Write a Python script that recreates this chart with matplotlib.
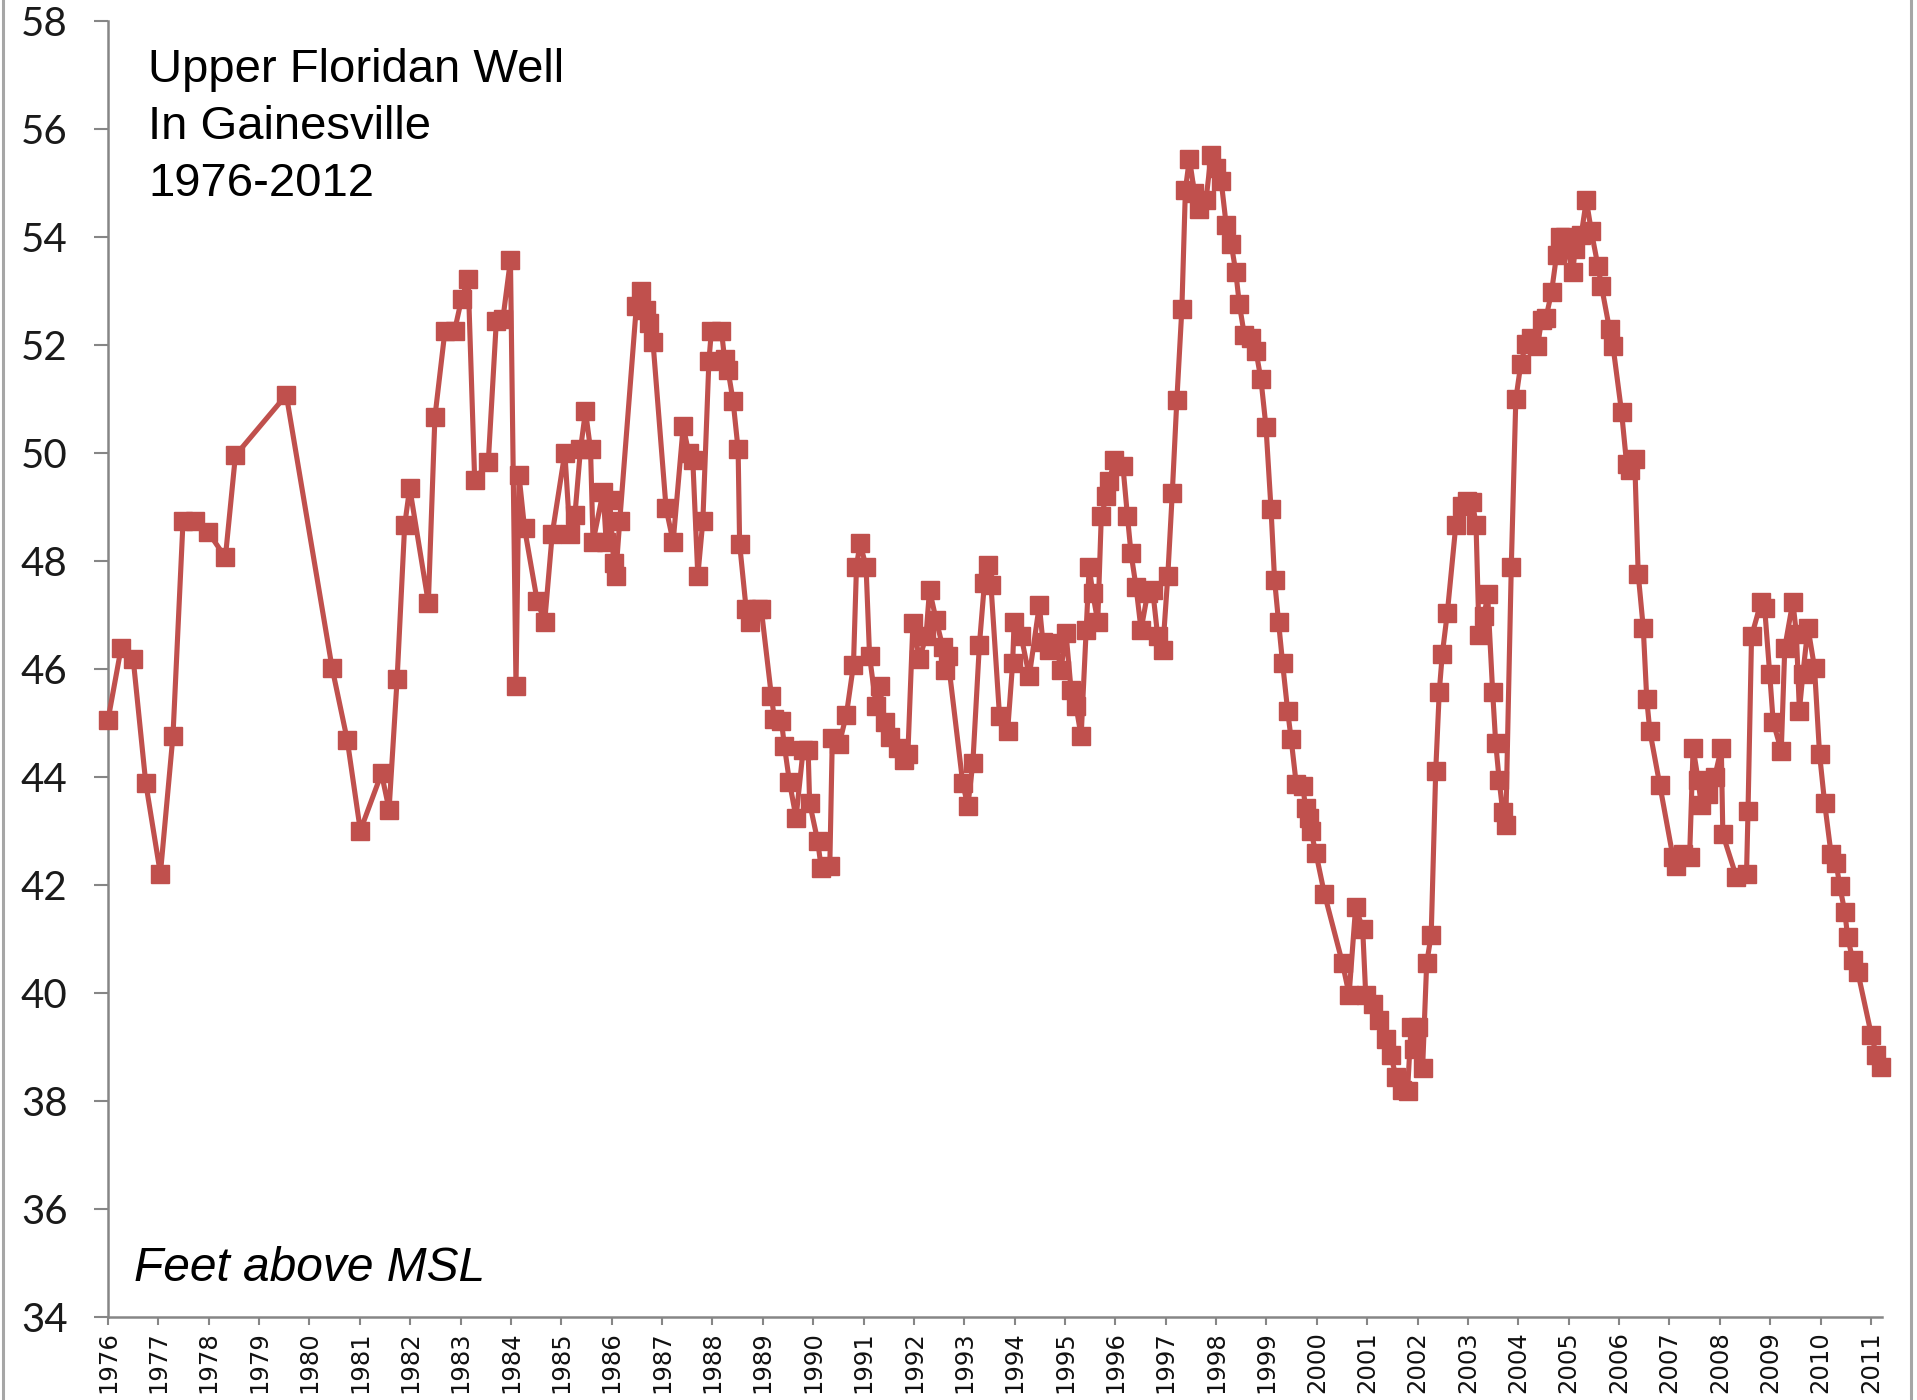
import matplotlib
matplotlib.use("Agg")
import matplotlib.pyplot as plt
from matplotlib.lines import Line2D

# ---------------- data ----------------
decimal_year = [
    1976.00, 1976.26, 1976.50, 1976.75, 1977.04, 1977.29, 1977.49, 1977.73, 1977.99, 1978.33,
    1978.53, 1979.54, 1980.45, 1980.75, 1981.01, 1981.43, 1981.58, 1981.74, 1981.89, 1981.99,
    1982.36, 1982.49, 1982.69, 1982.88, 1983.02, 1983.15, 1983.28, 1983.55, 1983.71, 1983.84,
    1983.99, 1984.10, 1984.16, 1984.27, 1984.52, 1984.67, 1984.82, 1985.07, 1985.17, 1985.27,
    1985.38, 1985.48, 1985.58, 1985.63, 1985.83, 1985.89, 1985.96, 1986.04, 1986.08, 1986.16,
    1986.49, 1986.59, 1986.69, 1986.75, 1986.82, 1987.08, 1987.22, 1987.42, 1987.53, 1987.61,
    1987.71, 1987.81, 1987.93, 1987.98, 1988.18, 1988.24, 1988.31, 1988.41, 1988.51, 1988.54,
    1988.67, 1988.74, 1988.90, 1988.97, 1989.17, 1989.23, 1989.37, 1989.43, 1989.53, 1989.66,
    1989.80, 1989.90, 1989.93, 1990.09, 1990.16, 1990.33, 1990.38, 1990.52, 1990.66, 1990.80,
    1990.86, 1990.93, 1991.05, 1991.12, 1991.25, 1991.32, 1991.42, 1991.52, 1991.68, 1991.81,
    1991.88, 1991.98, 1992.11, 1992.24, 1992.31, 1992.44, 1992.57, 1992.61, 1992.67, 1992.97,
    1993.07, 1993.17, 1993.30, 1993.40, 1993.47, 1993.53, 1993.70, 1993.86, 1993.96, 1993.99,
    1994.13, 1994.29, 1994.49, 1994.56, 1994.69, 1994.82, 1994.92, 1995.02, 1995.12, 1995.22,
    1995.32, 1995.42, 1995.48, 1995.55, 1995.65, 1995.72, 1995.82, 1995.88, 1995.98, 1996.15,
    1996.24, 1996.31, 1996.41, 1996.51, 1996.64, 1996.74, 1996.84, 1996.94, 1997.04, 1997.13,
    1997.22, 1997.32, 1997.39, 1997.47, 1997.57, 1997.67, 1997.80, 1997.90, 1998.00, 1998.10,
    1998.20, 1998.30, 1998.39, 1998.46, 1998.56, 1998.69, 1998.79, 1998.89, 1998.99, 1999.09,
    1999.16, 1999.24, 1999.32, 1999.42, 1999.49, 1999.59, 1999.72, 1999.78, 1999.85, 1999.88,
    1999.98, 2000.15, 2000.51, 2000.64, 2000.77, 2000.91, 2000.97, 2001.11, 2001.24, 2001.37,
    2001.47, 2001.57, 2001.70, 2001.80, 2001.87, 2001.93, 2002.00, 2002.10, 2002.18, 2002.27,
    2002.36, 2002.43, 2002.49, 2002.59, 2002.76, 2002.89, 2002.98, 2003.09, 2003.16, 2003.22,
    2003.32, 2003.39, 2003.49, 2003.55, 2003.62, 2003.69, 2003.75, 2003.86, 2003.95, 2004.05,
    2004.15, 2004.25, 2004.38, 2004.46, 2004.55, 2004.66, 2004.76, 2004.83, 2004.92, 2005.08,
    2005.13, 2005.25, 2005.35, 2005.45, 2005.58, 2005.65, 2005.81, 2005.88, 2006.05, 2006.15,
    2006.21, 2006.31, 2006.38, 2006.48, 2006.55, 2006.61, 2006.81, 2007.07, 2007.14, 2007.27,
    2007.40, 2007.47, 2007.57, 2007.63, 2007.77, 2007.90, 2008.03, 2008.06, 2008.33, 2008.53,
    2008.56, 2008.63, 2008.82, 2008.89, 2008.99, 2009.06, 2009.22, 2009.29, 2009.45, 2009.52,
    2009.58, 2009.65, 2009.75, 2009.88, 2009.98, 2010.08, 2010.21, 2010.31, 2010.38, 2010.48,
    2010.54, 2010.64, 2010.74, 2011.01, 2011.11, 2011.21,
]

water_level_ft = [
    45.06, 46.39, 46.19, 43.89, 42.21, 44.77, 48.75, 48.75, 48.54, 48.07,
    49.96, 51.08, 46.02, 44.69, 43.01, 44.07, 43.40, 45.82, 48.67, 49.36,
    47.23, 50.67, 52.27, 52.27, 52.86, 53.23, 49.50, 49.84, 52.45, 52.49,
    53.58, 45.69, 49.59, 48.61, 47.27, 46.88, 48.51, 50.01, 48.51, 48.86,
    50.07, 50.78, 50.07, 48.36, 49.29, 48.36, 49.14, 47.97, 47.73, 48.75,
    52.73, 53.00, 52.65, 52.41, 52.06, 48.98, 48.36, 50.50, 50.00, 49.88,
    47.73, 48.75, 51.71, 52.27, 52.27, 51.75, 51.54, 50.97, 50.07, 48.32,
    47.11, 46.88, 47.11, 47.11, 45.51, 45.08, 45.04, 44.57, 43.91, 43.25,
    44.50, 44.50, 43.52, 42.82, 42.31, 42.35, 44.72, 44.62, 45.16, 46.08,
    47.90, 48.34, 47.90, 46.24, 45.31, 45.68, 45.03, 44.75, 44.54, 44.32,
    44.42, 46.85, 46.18, 46.61, 47.47, 46.92, 46.42, 45.99, 46.24, 43.89,
    43.46, 44.26, 46.45, 47.59, 47.93, 47.56, 45.13, 44.85, 46.11, 46.88,
    46.61, 45.87, 47.19, 46.51, 46.36, 46.48, 45.99, 46.67, 45.62, 45.31,
    44.76, 46.73, 47.90, 47.41, 46.88, 48.83, 49.20, 49.48, 49.88, 49.76,
    48.83, 48.15, 47.53, 46.73, 47.41, 47.47, 46.61, 46.36, 47.72, 49.27,
    50.98, 52.68, 54.88, 55.46, 54.82, 54.53, 54.70, 55.52, 55.29, 55.05,
    54.23, 53.88, 53.36, 52.77, 52.19, 52.13, 51.90, 51.37, 50.49, 48.97,
    47.66, 46.87, 46.11, 45.23, 44.70, 43.88, 43.83, 43.42, 43.24, 43.01,
    42.60, 41.84, 40.55, 39.97, 41.60, 41.19, 39.97, 39.79, 39.50, 39.15,
    38.85, 38.45, 38.21, 38.18, 39.38, 38.97, 39.38, 38.62, 40.55, 41.08,
    44.12, 45.58, 46.28, 47.04, 48.68, 49.03, 49.12, 49.09, 48.68, 46.63,
    46.98, 47.39, 45.58, 44.64, 43.94, 43.36, 43.12, 47.90, 51.00, 51.66,
    52.03, 52.14, 51.98, 52.46, 52.51, 52.99, 53.68, 54.00, 54.00, 53.36,
    53.79, 54.05, 54.69, 54.11, 53.47, 53.10, 52.30, 51.98, 50.76, 49.80,
    49.69, 49.89, 47.76, 46.77, 45.44, 44.86, 43.85, 42.52, 42.36, 42.57,
    42.52, 44.54, 43.95, 43.48, 43.69, 44.01, 44.54, 42.94, 42.15, 42.20,
    43.37, 46.61, 47.25, 47.14, 45.92, 45.02, 44.49, 46.40, 47.25, 46.66,
    45.23, 45.92, 46.77, 46.03, 44.43, 43.53, 42.57, 42.41, 41.99, 41.51,
    41.03, 40.61, 40.39, 39.22, 38.85, 38.64,
]

year_ticks = list(range(1976, 2012))
y_ticks = list(range(34, 59, 2))
title_lines = ["Upper Floridan Well", "In Gainesville", "1976-2012"]
unit_label = "Feet above MSL"

# ---------------- figure ----------------
W, H = 1917, 1400
fig = plt.figure(figsize=(W / 100, H / 100), dpi=100)
fig.patch.set_facecolor("white")

left_px, right_px, top_px, bottom_px = 108, 1882, 21.4, 1317
ax = fig.add_axes([left_px / W, 1 - bottom_px / H,
                   (right_px - left_px) / W, (bottom_px - top_px) / H])

red = "#C0504D"
ax.plot(decimal_year, water_level_ft, color=red, lw=3.7, marker="s", ms=12.8,
        mfc=red, mec=red, clip_on=False, zorder=3)

ax.set_xlim(1976.0, 2011.22)
ax.set_ylim(34, 58)

axis_gray = "#868686"
for s in ["top", "right"]:
    ax.spines[s].set_visible(False)
for s in ["left", "bottom"]:
    ax.spines[s].set_color(axis_gray)
    ax.spines[s].set_linewidth(1.8)

ax.set_yticks(y_ticks)
ax.set_yticklabels([str(v) for v in y_ticks], fontsize=29, family="Lato", color="#1a1a1a")
ax.tick_params(axis="y", direction="out", length=10, width=1.5, color=axis_gray, pad=19)

ax.set_xticks(year_ticks)
ax.set_xticklabels([str(y) for y in year_ticks], rotation=90, fontsize=17.5, family="DejaVu Sans",
                   color="#111111")
ax.tick_params(axis="x", direction="out", length=6, width=1.5, color=axis_gray, pad=4)

# title block
baselines = [82, 139, 196]
for txt, b in zip(title_lines, baselines):
    fig.text(148 / W, 1 - b / H, txt, fontsize=34, family="Liberation Sans",
             color="black", va="baseline", ha="left")

fig.text(134 / W, 1 - 1281 / H, unit_label, fontsize=34.5, family="Liberation Sans",
         style="italic", color="black", va="baseline", ha="left")

# chart-area border (left and right edges visible)
for xp in (3, 1911):
    fig.add_artist(Line2D([xp / W, xp / W], [0, 1], transform=fig.transFigure,
                          color="#A6A6A6", lw=2.2))

fig.savefig("out.png", dpi=100, facecolor="white")
